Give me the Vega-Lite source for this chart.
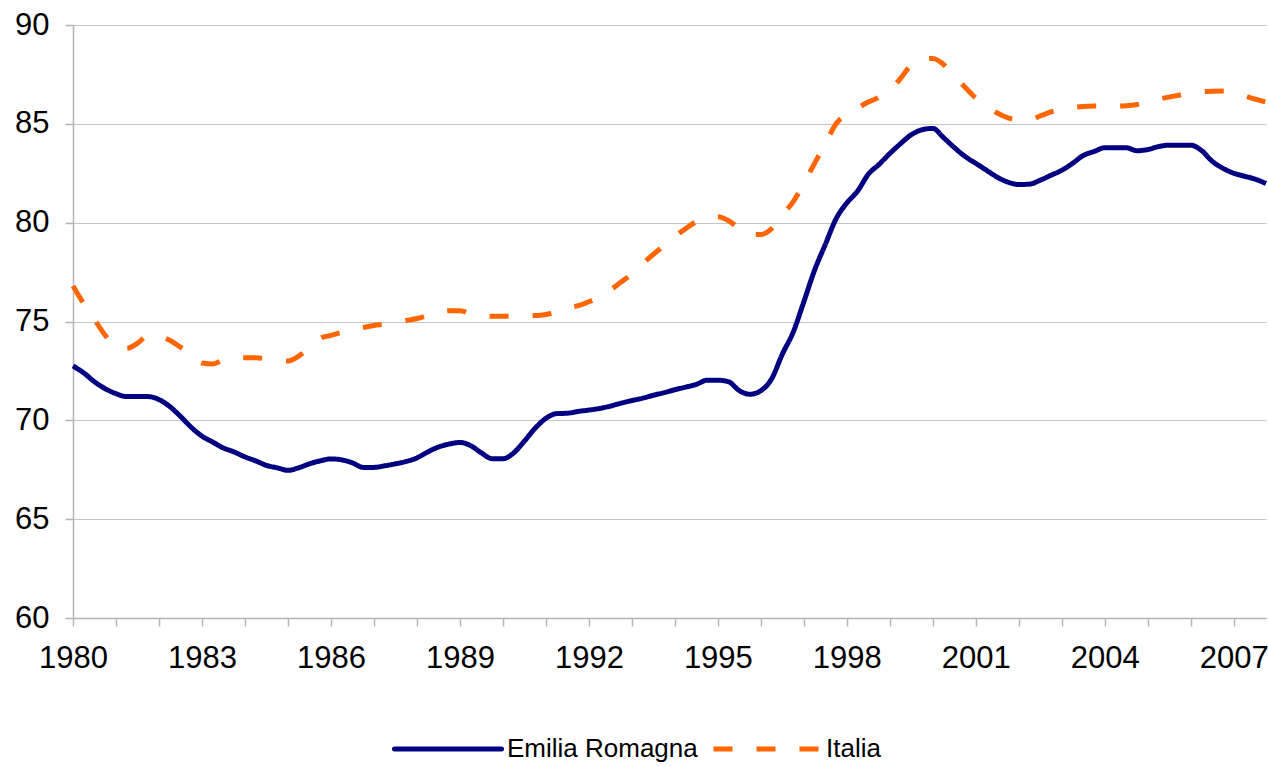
{
  "$schema": "https://vega.github.io/schema/vega-lite/v6.json",
  "autosize": {"type": "none"},
  "padding": {"left": 73, "top": 25, "right": 2, "bottom": 149},
  "width": 1193,
  "height": 593,
  "background": "white",
  "data": {"values": [
    {"t": 1980.00, "Emilia Romagna": 72.75, "Italia": 76.8},
    {"t": 1980.25, "Emilia Romagna": 72.4, "Italia": 75.9},
    {"t": 1980.50, "Emilia Romagna": 71.95, "Italia": 75.1},
    {"t": 1980.75, "Emilia Romagna": 71.6, "Italia": 74.3},
    {"t": 1981.00, "Emilia Romagna": 71.35, "Italia": 73.75},
    {"t": 1981.25, "Emilia Romagna": 71.2, "Italia": 73.65},
    {"t": 1981.50, "Emilia Romagna": 71.2, "Italia": 73.9},
    {"t": 1981.75, "Emilia Romagna": 71.2, "Italia": 74.3},
    {"t": 1982.00, "Emilia Romagna": 71.05, "Italia": 74.25},
    {"t": 1982.25, "Emilia Romagna": 70.7, "Italia": 74.05},
    {"t": 1982.50, "Emilia Romagna": 70.2, "Italia": 73.7},
    {"t": 1982.75, "Emilia Romagna": 69.65, "Italia": 73.35},
    {"t": 1983.00, "Emilia Romagna": 69.2, "Italia": 72.9},
    {"t": 1983.25, "Emilia Romagna": 68.9, "Italia": 72.85},
    {"t": 1983.50, "Emilia Romagna": 68.6, "Italia": 73.05},
    {"t": 1983.75, "Emilia Romagna": 68.4, "Italia": 73.15},
    {"t": 1984.00, "Emilia Romagna": 68.15, "Italia": 73.17},
    {"t": 1984.25, "Emilia Romagna": 67.95, "Italia": 73.17},
    {"t": 1984.50, "Emilia Romagna": 67.72, "Italia": 73.1},
    {"t": 1984.75, "Emilia Romagna": 67.6, "Italia": 73.05},
    {"t": 1985.00, "Emilia Romagna": 67.47, "Italia": 73.0},
    {"t": 1985.25, "Emilia Romagna": 67.6, "Italia": 73.25},
    {"t": 1985.50, "Emilia Romagna": 67.8, "Italia": 73.7},
    {"t": 1985.75, "Emilia Romagna": 67.95, "Italia": 74.15},
    {"t": 1986.00, "Emilia Romagna": 68.05, "Italia": 74.3},
    {"t": 1986.25, "Emilia Romagna": 68.0, "Italia": 74.45},
    {"t": 1986.50, "Emilia Romagna": 67.85, "Italia": 74.6},
    {"t": 1986.75, "Emilia Romagna": 67.62, "Italia": 74.7},
    {"t": 1987.00, "Emilia Romagna": 67.62, "Italia": 74.8},
    {"t": 1987.25, "Emilia Romagna": 67.7, "Italia": 74.86},
    {"t": 1987.50, "Emilia Romagna": 67.8, "Italia": 74.95},
    {"t": 1987.75, "Emilia Romagna": 67.92, "Italia": 75.05},
    {"t": 1988.00, "Emilia Romagna": 68.1, "Italia": 75.15},
    {"t": 1988.25, "Emilia Romagna": 68.4, "Italia": 75.3},
    {"t": 1988.50, "Emilia Romagna": 68.65, "Italia": 75.45},
    {"t": 1988.75, "Emilia Romagna": 68.8, "Italia": 75.55},
    {"t": 1989.00, "Emilia Romagna": 68.88, "Italia": 75.55},
    {"t": 1989.25, "Emilia Romagna": 68.72, "Italia": 75.4},
    {"t": 1989.50, "Emilia Romagna": 68.35, "Italia": 75.3},
    {"t": 1989.75, "Emilia Romagna": 68.06, "Italia": 75.27},
    {"t": 1990.00, "Emilia Romagna": 68.06, "Italia": 75.27},
    {"t": 1990.25, "Emilia Romagna": 68.35, "Italia": 75.27},
    {"t": 1990.50, "Emilia Romagna": 68.95, "Italia": 75.27},
    {"t": 1990.75, "Emilia Romagna": 69.6, "Italia": 75.3},
    {"t": 1991.00, "Emilia Romagna": 70.1, "Italia": 75.35},
    {"t": 1991.25, "Emilia Romagna": 70.34, "Italia": 75.5},
    {"t": 1991.50, "Emilia Romagna": 70.36, "Italia": 75.7},
    {"t": 1991.75, "Emilia Romagna": 70.45, "Italia": 75.8},
    {"t": 1992.00, "Emilia Romagna": 70.52, "Italia": 76.0},
    {"t": 1992.25, "Emilia Romagna": 70.6, "Italia": 76.25},
    {"t": 1992.50, "Emilia Romagna": 70.72, "Italia": 76.6},
    {"t": 1992.75, "Emilia Romagna": 70.87, "Italia": 77.0},
    {"t": 1993.00, "Emilia Romagna": 71.0, "Italia": 77.4},
    {"t": 1993.25, "Emilia Romagna": 71.12, "Italia": 77.92},
    {"t": 1993.50, "Emilia Romagna": 71.27, "Italia": 78.4},
    {"t": 1993.75, "Emilia Romagna": 71.4, "Italia": 78.85},
    {"t": 1994.00, "Emilia Romagna": 71.55, "Italia": 79.3},
    {"t": 1994.25, "Emilia Romagna": 71.68, "Italia": 79.7},
    {"t": 1994.50, "Emilia Romagna": 71.82, "Italia": 80.05},
    {"t": 1994.75, "Emilia Romagna": 72.03, "Italia": 80.2},
    {"t": 1995.00, "Emilia Romagna": 72.03, "Italia": 80.3},
    {"t": 1995.25, "Emilia Romagna": 71.95, "Italia": 80.1},
    {"t": 1995.50, "Emilia Romagna": 71.5, "Italia": 79.7},
    {"t": 1995.75, "Emilia Romagna": 71.32, "Italia": 79.4},
    {"t": 1996.00, "Emilia Romagna": 71.5, "Italia": 79.4},
    {"t": 1996.25, "Emilia Romagna": 72.1, "Italia": 79.7},
    {"t": 1996.50, "Emilia Romagna": 73.35, "Italia": 80.4},
    {"t": 1996.75, "Emilia Romagna": 74.45, "Italia": 81.05},
    {"t": 1997.00, "Emilia Romagna": 76.0, "Italia": 82.0},
    {"t": 1997.25, "Emilia Romagna": 77.6, "Italia": 83.0},
    {"t": 1997.50, "Emilia Romagna": 78.9, "Italia": 84.0},
    {"t": 1997.75, "Emilia Romagna": 80.2, "Italia": 85.0},
    {"t": 1998.00, "Emilia Romagna": 81.0, "Italia": 85.5},
    {"t": 1998.25, "Emilia Romagna": 81.6, "Italia": 85.8},
    {"t": 1998.50, "Emilia Romagna": 82.45, "Italia": 86.1},
    {"t": 1998.75, "Emilia Romagna": 82.95, "Italia": 86.35},
    {"t": 1999.00, "Emilia Romagna": 83.5, "Italia": 86.7},
    {"t": 1999.25, "Emilia Romagna": 84.0, "Italia": 87.3},
    {"t": 1999.50, "Emilia Romagna": 84.45, "Italia": 88.0},
    {"t": 1999.75, "Emilia Romagna": 84.7, "Italia": 88.3},
    {"t": 2000.00, "Emilia Romagna": 84.77, "Italia": 88.3},
    {"t": 2000.25, "Emilia Romagna": 84.3, "Italia": 88.0},
    {"t": 2000.50, "Emilia Romagna": 83.8, "Italia": 87.4},
    {"t": 2000.75, "Emilia Romagna": 83.35, "Italia": 86.85},
    {"t": 2001.00, "Emilia Romagna": 83.0, "Italia": 86.3},
    {"t": 2001.25, "Emilia Romagna": 82.65, "Italia": 85.9},
    {"t": 2001.50, "Emilia Romagna": 82.3, "Italia": 85.55},
    {"t": 2001.75, "Emilia Romagna": 82.05, "Italia": 85.3},
    {"t": 2002.00, "Emilia Romagna": 81.93, "Italia": 85.2},
    {"t": 2002.25, "Emilia Romagna": 81.95, "Italia": 85.2},
    {"t": 2002.50, "Emilia Romagna": 82.15, "Italia": 85.4},
    {"t": 2002.75, "Emilia Romagna": 82.4, "Italia": 85.6},
    {"t": 2003.00, "Emilia Romagna": 82.65, "Italia": 85.72},
    {"t": 2003.25, "Emilia Romagna": 83.0, "Italia": 85.82},
    {"t": 2003.50, "Emilia Romagna": 83.4, "Italia": 85.88},
    {"t": 2003.75, "Emilia Romagna": 83.6, "Italia": 85.9},
    {"t": 2004.00, "Emilia Romagna": 83.79, "Italia": 85.9},
    {"t": 2004.25, "Emilia Romagna": 83.79, "Italia": 85.9},
    {"t": 2004.50, "Emilia Romagna": 83.79, "Italia": 85.92},
    {"t": 2004.75, "Emilia Romagna": 83.64, "Italia": 85.98},
    {"t": 2005.00, "Emilia Romagna": 83.7, "Italia": 86.1},
    {"t": 2005.25, "Emilia Romagna": 83.85, "Italia": 86.25},
    {"t": 2005.50, "Emilia Romagna": 83.92, "Italia": 86.35},
    {"t": 2005.75, "Emilia Romagna": 83.92, "Italia": 86.46},
    {"t": 2006.00, "Emilia Romagna": 83.92, "Italia": 86.55},
    {"t": 2006.25, "Emilia Romagna": 83.65, "Italia": 86.62},
    {"t": 2006.50, "Emilia Romagna": 83.1, "Italia": 86.65},
    {"t": 2006.75, "Emilia Romagna": 82.75, "Italia": 86.66},
    {"t": 2007.00, "Emilia Romagna": 82.5, "Italia": 86.6},
    {"t": 2007.25, "Emilia Romagna": 82.35, "Italia": 86.42},
    {"t": 2007.50, "Emilia Romagna": 82.2, "Italia": 86.25},
    {"t": 2007.75, "Emilia Romagna": 81.98, "Italia": 86.1}
  ]},
  "transform": [
    {"fold": ["Emilia Romagna", "Italia"], "as": ["serie", "valore"]}
  ],
  "mark": {"type": "line", "strokeWidth": 5, "interpolate": "monotone", "strokeJoin": "round"},
  "encoding": {
    "x": {
      "field": "t", "type": "quantitative",
      "scale": {"domain": [1980, 2007.75], "nice": false, "zero": false},
      "axis": {
        "title": null,
        "values": [1980,1981,1982,1983,1984,1985,1986,1987,1988,1989,1990,1991,1992,1993,1994,1995,1996,1997,1998,1999,2000,2001,2002,2003,2004,2005,2006,2007],
        "labelExpr": "(datum.value - 1980) % 3 == 0 ? '' + datum.value : ''",
        "grid": false,
        "tickSize": 8,
        "labelPadding": 17,
        "labelFontSize": 31,
        "labelOverlap": false,
        "labelFlush": false
      }
    },
    "y": {
      "field": "valore", "type": "quantitative",
      "scale": {"domain": [60, 90], "nice": false, "zero": false},
      "axis": {
        "title": null,
        "values": [60, 65, 70, 75, 80, 85, 90],
        "grid": true,
        "tickSize": 8,
        "labelPadding": 16,
        "labelFontSize": 31
      }
    },
    "color": {
      "field": "serie", "type": "nominal",
      "scale": {"domain": ["Emilia Romagna", "Italia"], "range": ["#000080", "#FF6600"]},
      "legend": {
        "title": null,
        "orient": "none",
        "legendX": 319,
        "legendY": 668,
        "direction": "horizontal",
        "symbolType": "stroke",
        "symbolSize": 11449,
        "symbolStrokeWidth": 5,
        "labelFontSize": 26,
        "labelFont": "Liberation Sans",
        "labelColor": "#000000",
        "labelOffset": 3,
        "columnPadding": 5,
        "labelLimit": 0,
        "encode": {"symbols": {
          "enter": {"strokeDash": {"signal": "datum.value === 'Italia' ? [10, 21] : [1, 0]"}},
          "update": {"strokeDash": {"signal": "datum.value === 'Italia' ? [10, 21] : [1, 0]"}, "strokeCap": {"signal": "datum.value === 'Italia' ? 'butt' : 'round'"}}
        }}
      }
    },
    "strokeDash": {
      "field": "serie", "type": "nominal",
      "scale": {"domain": ["Emilia Romagna", "Italia"], "range": [[1, 0], [19, 24]]},
      "legend": null
    }
  },
  "config": {
    "view": {"stroke": null},
    "font": "Liberation Sans",
    "axis": {
      "labelFont": "Liberation Sans",
      "labelColor": "#000000",
      "domainColor": "#b4b4b4",
      "domainWidth": 1.5,
      "tickColor": "#b4b4b4",
      "tickWidth": 1.5,
      "gridColor": "#c4c4c4",
      "gridWidth": 1.2
    }
  }
}
